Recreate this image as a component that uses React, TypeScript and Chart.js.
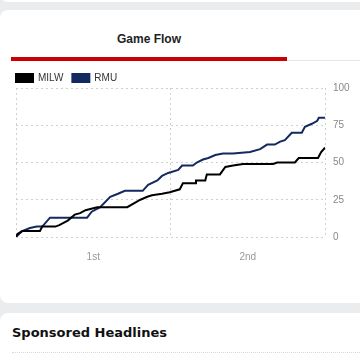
import React, { useEffect, useRef } from "react";
import { Chart, registerables } from "chart.js";

Chart.register(...registerables);

const teamNames = ["MILW", "RMU"];
const teamColors = ["#000000", "#14295e"];

const milwTimes = [0, 0.2, 0.8, 3.1, 3.4, 5.1, 5.6, 6.7, 7.6, 8.3, 9.0, 10.5, 14.4, 16.1, 17.0, 17.6, 18.9, 19.9, 21.2, 21.6, 23.2, 23.3, 24.5, 24.7, 26.4, 27.1, 28.1, 29.4, 33.3, 33.8, 36.1, 36.6, 39.1, 39.5, 40];
const milwScores = [0, 2, 4, 4, 7, 7, 8, 11, 15, 16, 18, 20, 20, 25, 27, 28, 29, 30, 32, 36, 36, 38, 38, 42, 42, 47, 48, 49, 49, 50, 50, 53, 53, 57, 60];

const rmuTimes = [0, 0.8, 1.8, 2.7, 3.4, 4.4, 9.2, 9.8, 10.9, 12.2, 13.2, 14.1, 16.4, 17.1, 18.3, 18.9, 19.7, 21.0, 21.5, 22.9, 23.4, 24.2, 24.9, 25.8, 26.8, 28.1, 30.3, 31.6, 32.5, 33.5, 34.2, 34.8, 35.7, 37.0, 37.4, 38.3, 39.0, 39.2, 40];
const rmuScores = [0, 4, 6, 7, 7, 13, 13, 17, 20, 27, 29, 31, 31, 35, 38, 41, 43, 45, 48, 48, 50, 52, 53, 55, 56, 56, 57, 59, 62, 62, 64, 65, 70, 70, 74, 76, 78, 80, 80];

const periodLabels: Record<number, string> = { 10: "1st", 30: "2nd" };
const xTicks = [0, 10, 20, 30, 40];
const yTicks = [0, 25, 50, 75, 100];

function App() {
  const ref = useRef<HTMLCanvasElement | null>(null);
  useEffect(() => {
    if (!ref.current) return;
    const series = [
      milwTimes.map((t, i) => ({ x: t, y: milwScores[i] })),
      rmuTimes.map((t, i) => ({ x: t, y: rmuScores[i] })),
    ];
    const chart = new Chart(ref.current, {
      type: "line",
      data: {
        datasets: series.map((d, i) => ({
          label: teamNames[i],
          data: d,
          borderColor: teamColors[i],
          backgroundColor: teamColors[i],
          borderWidth: 2,
          pointRadius: 0,
          pointHoverRadius: 0,
          tension: 0,
          fill: false,
        })),
      },
      options: {
        animation: false,
        responsive: false,
        layout: { autoPadding: false, padding: { left: 9, right: 0, top: 0, bottom: 0 } },
        plugins: {
          legend: {
            display: true,
            position: "top",
            align: "start",
            labels: {
              boxWidth: 17,
              boxHeight: 8,
              padding: 9,
              color: "#333",
              font: { family: "'Liberation Sans', Arial, sans-serif", size: 10 },
            },
          },
          tooltip: { enabled: false },
        },
        scales: {
          x: {
            type: "linear",
            min: 0,
            max: 40,
            afterBuildTicks: (s: any) => {
              s.ticks = xTicks.map((v) => ({ value: v }));
            },
            afterFit: (s: any) => {
              s.height = 30;
              s.paddingLeft = 0;
              s.paddingRight = 0;
            },
            grid: {
              drawTicks: false,
              color: (c: any) => (c.tick && (c.tick.value === 10 || c.tick.value === 30) ? "rgba(0,0,0,0)" : "#d0d0d0"),
              lineWidth: 1,
            },
            border: { display: false, dash: [2, 3] },
            ticks: {
              padding: 14,
              autoSkip: false,
              maxRotation: 0,
              color: "#999",
              font: { family: "'Liberation Sans', Arial, sans-serif", size: 10 },
              callback: (v: any) => periodLabels[v as number] ?? "",
            },
          },
          y: {
            position: "right",
            min: 0,
            max: 100,
            afterBuildTicks: (s: any) => {
              s.ticks = yTicks.map((v) => ({ value: v }));
            },
            afterFit: (s: any) => {
              s.width = 30;
            },
            grid: { drawTicks: false, color: "#d0d0d0", lineWidth: 1 },
            border: { display: false, dash: [2, 3] },
            ticks: {
              padding: 8,
              color: "#888",
              font: { family: "'Liberation Sans', Arial, sans-serif", size: 10 },
            },
          },
        },
      },
      plugins: [
        {
          id: "legendFit",
          beforeInit(c: any) {
            const lg = c.legend;
            if (lg) {
              const orig = lg.fit;
              lg.fit = function () {
                orig.call(this);
                this.height -= 5;
              };
            }
          },
          afterLayout(c: any) {
            const lg = c.legend;
            if (lg) {
              lg.left -= 9;
              lg.right -= 9;
            }
          },
        },
      ],
    } as any);
    return () => chart.destroy();
  }, []);

  return (
    <div
      style={{
        position: "absolute",
        left: 0,
        top: 0,
        width: 360,
        height: 359,
        overflow: "hidden",
        background: "#ebecee",
        fontFamily: "'Liberation Sans', Arial, sans-serif",
      }}
    >
      <div style={{ position: "absolute", left: 0, top: -20, width: 380, height: 22, background: "#fff", borderRadius: 8 }} />
      <div style={{ position: "absolute", left: 0, top: 10, width: 380, height: 293, background: "#fff", borderRadius: 8 }} />
      <div
        style={{
          position: "absolute",
          left: 11,
          top: 31,
          width: 276,
          textAlign: "center",
          fontWeight: "bold",
          fontSize: 12,
          lineHeight: "16px",
          color: "#222",
        }}
      >
        Game Flow
      </div>
      <div style={{ position: "absolute", left: 11, top: 60, width: 349, height: 1, background: "#e6e6e6" }} />
      <div style={{ position: "absolute", left: 11, top: 57, width: 276, height: 4, background: "#cc0000" }} />
      <canvas ref={ref} width={348} height={203} style={{ position: "absolute", left: 7, top: 64 }} />
      <div style={{ position: "absolute", left: 0, top: 313, width: 380, height: 80, background: "#fff", borderRadius: 8 }} />
      <div
        style={{
          position: "absolute",
          left: 12,
          top: 324,
          fontFamily: "'DejaVu Sans', sans-serif",
          fontWeight: "bold",
          fontSize: 13,
          lineHeight: "18px",
          color: "#111",
        }}
      >
        Sponsored Headlines
      </div>
      <div style={{ position: "absolute", left: 12, top: 352, width: 348, height: 0, borderTop: "1px dotted #d8d8d8" }} />
    </div>
  );
}

export default App;
